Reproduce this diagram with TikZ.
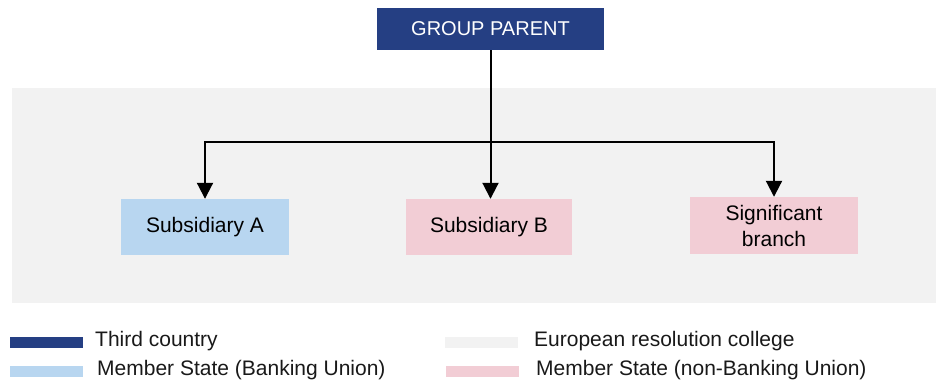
\documentclass[tikz,border=0pt]{standalone}
\usepackage{fontspec}
\setmainfont{Liberation Sans}
\usetikzlibrary{arrows.meta}
\definecolor{navy}{HTML}{253F83}
\definecolor{bublue}{HTML}{B8D6F0}
\definecolor{nonbupink}{HTML}{F2CDD5}
\definecolor{collegegray}{HTML}{F2F2F2}
\begin{document}
\begin{tikzpicture}[x=1pt,y=-1pt,
  every node/.style={font=\fontsize{21}{25}\selectfont, inner sep=0pt},
  entity/.style={minimum width=168pt, minimum height=56pt, align=center},
  swatch/.style={minimum width=73pt, minimum height=11pt},
  legendtext/.style={anchor=west, text=black!90},
  link/.style={line width=2pt, -{Triangle[length=16pt,width=16pt]}}]
  \useasboundingbox (0,0) rectangle (936,385);
  % resolution college background
  \fill[collegegray] (12,88) rectangle (936,303);
  % entities
  \node[fill=navy, text=white, minimum width=227pt, minimum height=42pt, font=\fontsize{20}{24}\selectfont] (parent) at (490.5,29) {GROUP PARENT};
  \node[entity, fill=bublue] (subA) at (205,227) {Subsidiary A};
  \node[entity, fill=nonbupink, minimum width=166pt] (subB) at (489,227) {Subsidiary B};
  \node[entity, fill=nonbupink, minimum height=57pt] (branch) at (774,225.5) {Significant\\[1pt]branch};
  % connectors
  \coordinate (split) at (parent.south |- 0,142);
  \draw[link] (parent.south) -- (parent.south |- subB.north);
  \draw[link] (split) -| (subA.north);
  \draw[link] (split) -| (branch.north);
  % legend
  \node[swatch, fill=navy] (k1) at (46.5,342.5) {};
  \node[legendtext] (t1) at (95,341) {Third country};
  \node[swatch, fill=bublue] (k2) at (46.5,371.5) {};
  \node[legendtext] (t2) at (97,370) {Member State (Banking Union)};
  \node[swatch, fill=collegegray] (k3) at (481,342.5) {};
  \node[legendtext] (t3) at (534,341) {European resolution college};
  \node[swatch, fill=nonbupink] (k4) at (482.5,371.5) {};
  \node[legendtext] (t4) at (536,370) {Member State (non-Banking Union)};
\end{tikzpicture}
\end{document}
